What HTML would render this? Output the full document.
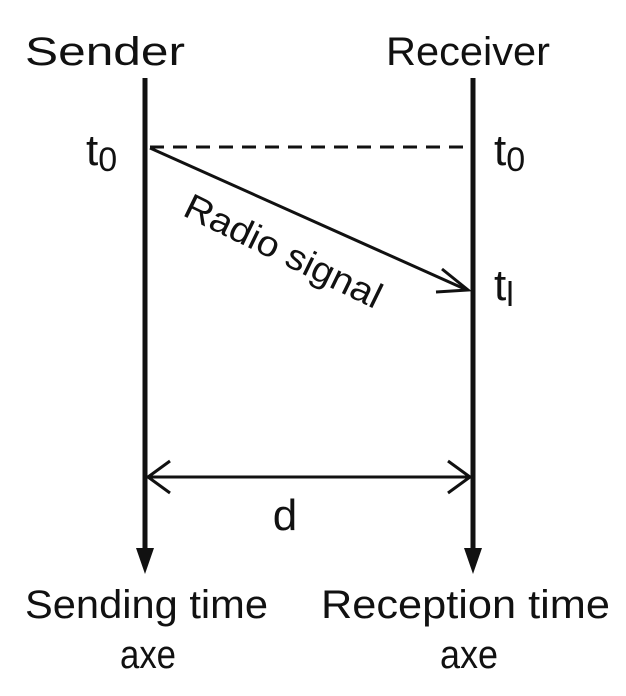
<!DOCTYPE html>
<html><head><meta charset="utf-8"><style>
html,body{margin:0;padding:0;background:#fff;}
svg{display:block;}
text{font-family:"Liberation Sans",sans-serif;fill:#111;}
</style></head><body>
<svg width="626" height="696" viewBox="0 0 626 696" xmlns="http://www.w3.org/2000/svg">
<g stroke="#111" stroke-width="5" fill="none">
<line x1="145" y1="78" x2="145" y2="552"/>
<line x1="473" y1="78" x2="473" y2="552"/>
<line x1="150" y1="147" x2="473" y2="147" stroke-dasharray="14,9" stroke-width="3"/>
<line x1="150" y1="148" x2="467" y2="290" stroke-width="3"/>
<polyline points="442,269 468,290 436,292" stroke-width="3"/>
<line x1="148" y1="477" x2="470" y2="477" stroke-width="3"/>
<polyline points="170,461 148,477 170,493" stroke-width="3"/>
<polyline points="448,461 470,477 448,493" stroke-width="3"/>
</g>
<polygon points="136,548 154,548 145,574" fill="#111"/>
<polygon points="464,548 482,548 473,574" fill="#111"/>
<text x="25" y="65" font-size="40" textLength="160" lengthAdjust="spacingAndGlyphs">Sender</text>
<text x="386" y="65" font-size="40" textLength="164" lengthAdjust="spacingAndGlyphs">Receiver</text>
<text x="86" y="165" font-size="44">t<tspan font-size="34" dy="6">0</tspan></text>
<text x="494" y="165" font-size="44">t<tspan font-size="34" dy="6">0</tspan></text>
<text x="494" y="300" font-size="44">t<tspan font-size="34" dy="6">l</tspan></text>
<text x="0" y="0" font-size="36" text-anchor="middle" textLength="215" lengthAdjust="spacingAndGlyphs" transform="translate(278,262) rotate(26)">Radio signal</text>
<text x="285" y="530" font-size="44" text-anchor="middle">d</text>
<text x="25" y="618" font-size="40" textLength="243" lengthAdjust="spacingAndGlyphs">Sending time</text>
<text x="120" y="668" font-size="40" textLength="56" lengthAdjust="spacingAndGlyphs">axe</text>
<text x="321" y="618" font-size="40" textLength="289" lengthAdjust="spacingAndGlyphs">Reception time</text>
<text x="440" y="668" font-size="40" textLength="58" lengthAdjust="spacingAndGlyphs">axe</text>
</svg>
</body></html>
